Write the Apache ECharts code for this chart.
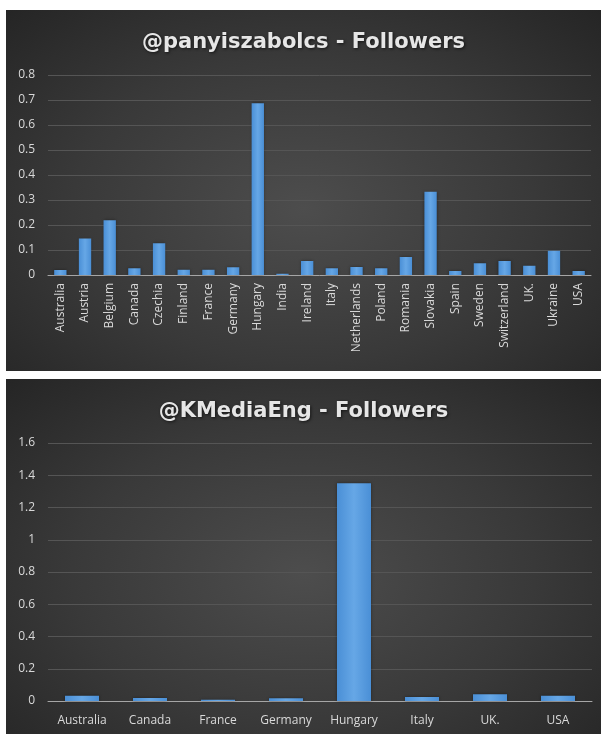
<!DOCTYPE html>
<html>
<head>
<meta charset="utf-8">
<script src="https://cdn.jsdelivr.net/npm/echarts@6/dist/echarts.min.js"></script>
<style>
  html, body { margin: 0; padding: 0; background: #ffffff; width: 601px; height: 734px; overflow: hidden; }
  .panel { position: absolute; left: 6px; width: 595px;
    background: radial-gradient(ellipse at 50% 55%, #4d4d4d 0%, #393939 55%, #252525 100%); }
  #c1 { top: 10px; height: 361px; }
  #c2 { top: 379px; height: 355px; }
</style>
</head>
<body>
<div id="c1" class="panel"></div>
<div id="c2" class="panel"></div>
<script>
const title1 = '@panyiszabolcs - Followers';
const countries1 = ['Australia','Austria','Belgium','Canada','Czechia','Finland','France','Germany','Hungary','India','Ireland','Italy','Netherlands','Poland','Romania','Slovakia','Spain','Sweden','Switzerland','UK.','Ukraine','USA'];
const values1 = [0.020,0.146,0.219,0.027,0.127,0.021,0.021,0.031,0.687,0.005,0.056,0.027,0.032,0.027,0.072,0.333,0.016,0.047,0.056,0.037,0.097,0.016];

const title2 = '@KMediaEng - Followers';
const countries2 = ['Australia','Canada','France','Germany','Hungary','Italy','UK.','USA'];
const values2 = [0.033,0.019,0.008,0.017,1.35,0.025,0.042,0.033];

const titleFont = '"DejaVu Sans", sans-serif';
const font = '"Open Sans", sans-serif';
const labelColor = '#d9d9d9';

function makeOption(title, cats, vals, ymax, yint, grid, rotate) {
  return {
    animation: false,
    backgroundColor: 'transparent',
    title: {
      text: title, left: 'center', top: grid.titleTop,
      textStyle: { color: '#e6e6e6', fontFamily: titleFont, fontSize: 21, fontWeight: 'bold',
        textShadowColor: 'rgba(0,0,0,0.6)', textShadowBlur: 3, textShadowOffsetX: 1, textShadowOffsetY: 1 }
    },
    grid: { left: grid.left, right: grid.right, top: grid.top, bottom: grid.bottom, containLabel: false },
    xAxis: {
      type: 'category', data: cats,
      axisLine: { lineStyle: { color: '#a6a6a6', width: 1 } },
      axisTick: { show: false },
      axisLabel: { color: labelColor, fontFamily: font, fontSize: 12, rotate: rotate, interval: 0, margin: grid.xMargin }
    },
    yAxis: {
      type: 'value', min: 0, max: ymax, interval: yint,
      axisLine: { show: false }, axisTick: { show: false },
      splitLine: { lineStyle: { color: '#555555', width: 1 } },
      axisLabel: { color: labelColor, fontFamily: font, fontSize: 12, margin: 13 }
    },
    series: [{
      type: 'bar', data: vals, barWidth: '50%',
      itemStyle: {
        color: new echarts.graphic.LinearGradient(0, 0, 1, 0, [
          { offset: 0, color: '#4a8fd6' }, { offset: 0.5, color: '#66a7e6' }, { offset: 1, color: '#4a8fd6' }
        ]),
        shadowColor: 'rgba(0,0,0,0.4)', shadowBlur: 3
      }
    }]
  };
}

const ch1 = echarts.init(document.getElementById('c1'));
ch1.setOption(makeOption(title1, countries1, values1, 0.8, 0.1,
  { left: 42, right: 10, top: 65, bottom: 96, titleTop: 17, xMargin: 8 }, 90));

const ch2 = echarts.init(document.getElementById('c2'));
ch2.setOption(makeOption(title2, countries2, values2, 1.6, 0.2,
  { left: 42, right: 9, top: 64, bottom: 33, titleTop: 17, xMargin: 14 }, 0));
</script>
</body>
</html>
